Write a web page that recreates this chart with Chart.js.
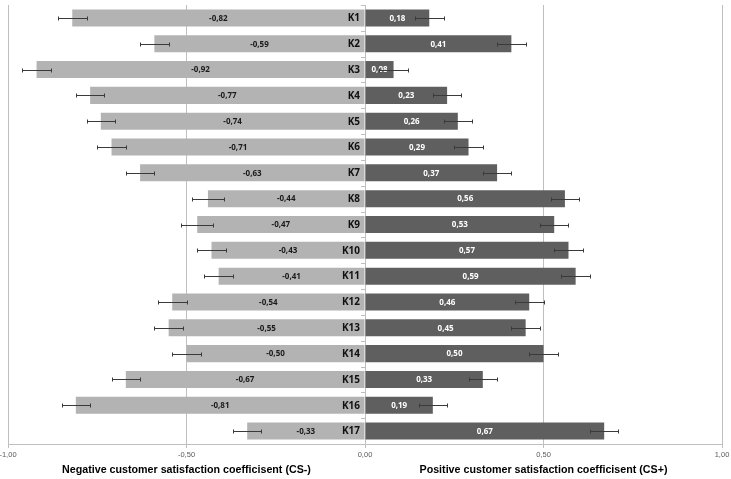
<!DOCTYPE html>
<html>
<head>
<meta charset="utf-8">
<script src="https://cdn.jsdelivr.net/npm/chart.js@4.4.1/dist/chart.umd.min.js"></script>
<style>
  html, body { margin: 0; padding: 0; background: #fff; }
  canvas { display: block; }
</style>
</head>
<body>
<canvas id="cs-chart" width="731" height="479"></canvas>
<script>
const categories = ["K1", "K2", "K3", "K4", "K5", "K6", "K7", "K8", "K9", "K10", "K11", "K12", "K13", "K14", "K15", "K16", "K17"];
const negValues = [-0.82, -0.59, -0.92, -0.77, -0.74, -0.71, -0.63, -0.44, -0.47, -0.43, -0.41, -0.54, -0.55, -0.50, -0.67, -0.81, -0.33];
const posValues = [0.18, 0.41, 0.08, 0.23, 0.26, 0.29, 0.37, 0.56, 0.53, 0.57, 0.59, 0.46, 0.45, 0.50, 0.33, 0.19, 0.67];
const negErrors = [0.04, 0.04, 0.04, 0.04, 0.04, 0.04, 0.04, 0.045, 0.045, 0.04, 0.04, 0.04, 0.04, 0.04, 0.04, 0.04, 0.04];
const posErrors = [0.04, 0.04, 0.04, 0.04, 0.04, 0.04, 0.04, 0.04, 0.04, 0.04, 0.04, 0.04, 0.04, 0.04, 0.04, 0.04, 0.04];
const xTicks = [-1, -0.5, 0, 0.5, 1];
const axisTitles = [
  { at: -0.5, text: "Negative customer satisfaction coefficisent (CS-)" },
  { at: 0.5, text: "Positive customer satisfaction coefficisent (CS+)" }
];

const fmt = v => v.toFixed(2).replace(".", ",");

// error bars, value labels, K labels and the two axis titles
const overlayPlugin = {
  id: "overlay",
  afterDatasetsDraw(chart) {
    const ctx = chart.ctx;
    const xs = chart.scales.x;
    const ys = chart.scales.y;
    const zero = xs.getPixelForValue(0);
    const errs = [negErrors, posErrors];
    const textColors = ["#1a1a1a", "#ffffff"];

    ctx.save();
    // small tick marks on the zero line between categories
    ctx.strokeStyle = "#bfbfbf";
    ctx.lineWidth = 1;
    const band = (ys.getPixelForValue(1) - ys.getPixelForValue(0));
    for (let i = 0; i <= categories.length; i++) {
      const y = Math.round(ys.getPixelForValue(i) - band / 2) + 0.5;
      ctx.beginPath();
      ctx.moveTo(zero - 4, y);
      ctx.lineTo(zero, y);
      ctx.stroke();
    }

    chart.data.datasets.forEach((ds, di) => {
      const meta = chart.getDatasetMeta(di);
      meta.data.forEach((bar, i) => {
        const v = ds.data[i];
        // value label in the middle of the bar
        ctx.fillStyle = textColors[di];
        ctx.font = "bold 8px 'Open Sans'";
        ctx.textAlign = "center";
        ctx.textBaseline = "middle";
        ctx.fillText(fmt(v), (bar.x + bar.base) / 2, bar.y + 0.5);
        // error bar
        const e = errs[di][i];
        const x1 = Math.round(xs.getPixelForValue(v - e)) + 0.5;
        const x2 = Math.round(xs.getPixelForValue(v + e)) + 0.5;
        const y = Math.round(bar.y) + 0.5;
        ctx.strokeStyle = "#3a3a3a";
        ctx.lineWidth = 1;
        ctx.beginPath();
        ctx.moveTo(x1, y); ctx.lineTo(x2, y);
        ctx.moveTo(x1, y - 2); ctx.lineTo(x1, y + 2);
        ctx.moveTo(x2, y - 2); ctx.lineTo(x2, y + 2);
        ctx.stroke();
      });
    });

    // category labels left of the zero line
    ctx.fillStyle = "#111";
    ctx.font = "bold 10px 'Open Sans'";
    ctx.textAlign = "right";
    ctx.textBaseline = "middle";
    categories.forEach((c, i) => {
      ctx.fillText(c, zero - 5, ys.getPixelForValue(i) + 0.5);
    });

    // axis titles
    ctx.fillStyle = "#000";
    ctx.font = "bold 10.7px 'Liberation Sans'";
    ctx.textAlign = "center";
    axisTitles.forEach(t => {
      ctx.fillText(t.text, xs.getPixelForValue(t.at), 470);
    });
    ctx.restore();
  }
};

new Chart(document.getElementById("cs-chart"), {
  type: "bar",
  data: {
    labels: categories,
    datasets: [
      { label: "CS-", data: negValues, backgroundColor: "#b3b3b3", barPercentage: 0.66, categoryPercentage: 1 },
      { label: "CS+", data: posValues, backgroundColor: "#5f5f5f", barPercentage: 0.66, categoryPercentage: 1 }
    ]
  },
  plugins: [overlayPlugin],
  options: {
    indexAxis: "y",
    responsive: false,
    animation: false,
    devicePixelRatio: 1,
    layout: { padding: { left: 8, right: 9, top: 5, bottom: 18 } },
    plugins: {
      legend: { display: false },
      tooltip: { enabled: false }
    },
    scales: {
      x: {
        stacked: true,
        min: -1,
        max: 1,
        afterBuildTicks: axis => { axis.ticks = xTicks.map(v => ({ value: v })); },
        // let the end labels hang over the edge like the original
        afterFit: axis => { axis.paddingLeft = 0; axis.paddingRight = 0; },
        grid: { color: "#bfbfbf", tickLength: 4, tickColor: "#bfbfbf" },
        border: { color: "#bfbfbf" },
        ticks: {
          color: "#595959",
          font: { family: "'Liberation Sans'", size: 7.5 },
          padding: 2,
          maxRotation: 0,
          callback: v => fmt(v)
        }
      },
      y: {
        stacked: true,
        display: false
      }
    }
  }
});
</script>
</body>
</html>
